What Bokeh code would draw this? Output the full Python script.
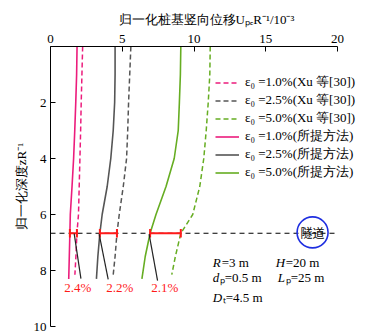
from bokeh.plotting import figure
from bokeh.models import Range1d, FixedTicker, Legend, LegendItem, ColumnDataSource
from bokeh.core.properties import value
from bokeh.embed import file_html
from bokeh.resources import INLINE

# ---- data ----
depth_solid = [0, 1, 2, 3, 4, 5, 6, 6.67, 7.5, 8.3]
depth_dash = [0, 1, 2, 3, 4, 5, 6, 6.67, 7.5, 8.15]

pink_solid = [1.85, 1.82, 1.76, 1.69, 1.61, 1.50, 1.38, 1.35, 1.31, 1.27]
pink_dash = [2.24, 2.19, 2.14, 2.10, 2.05, 2.00, 1.95, 1.84, 1.77, 1.70]
black_solid = [4.50, 4.50, 4.47, 4.37, 4.20, 3.95, 3.60, 3.44, 3.30, 3.20]
black_dash = [5.60, 5.52, 5.44, 5.38, 5.30, 5.07, 4.79, 4.63, 4.50, 4.37]
green_solid = [9.08, 9.05, 8.98, 8.90, 8.62, 8.05, 7.35, 6.94, 6.60, 6.37]
green_dash = [11.13, 11.10, 10.99, 10.85, 10.68, 10.40, 9.91, 9.08, 8.70, 8.45]

tunnel_depth = 6.67
bar_left = [1.35, 3.44, 6.94]
bar_right = [1.84, 4.63, 9.08]
diff_labels = ["2.4%", "2.2%", "2.1%"]
label_x = [1.90, 4.83, 7.96]
label_y = [8.6, 8.6, 8.6]
leader_x0 = [1.65, 3.39, 6.87]
leader_y0 = [6.68, 6.70, 6.70]
leader_x1 = [2.12, 4.02, 7.46]
leader_y1 = [8.29, 8.32, 8.36]

x_ticks = [0, 5, 10, 15, 20]
y_ticks = [2, 4, 6, 8, 10]

legend_labels = [
    "ε₀ =1.0%(Xu 等[30])",
    "ε₀ =2.5%(Xu 等[30])",
    "ε₀ =5.0%(Xu 等[30])",
    "ε₀ =1.0%(所提方法)",
    "ε₀ =2.5%(所提方法)",
    "ε₀ =5.0%(所提方法)",
]

PINK = "#ec1c7c"
GREY = "#555555"
GREEN = "#66ad22"
RED = "#ff1a1a"
SERIF = "Liberation Serif"

# frame extends past 20 so that the legend is not clipped; axis is bounded to 0..20
x_max_frame = 20 * (362 - 49.5) / (337 - 49.5)

p = figure(width=367, height=334, output_backend="svg", toolbar_location=None,
           x_range=Range1d(0, x_max_frame), y_range=Range1d(10, 0),
           x_axis_location="above",
           min_border_left=50, min_border_right=5, min_border_top=46, min_border_bottom=8)
p.outline_line_color = None
p.xgrid.visible = False
p.ygrid.visible = False
p.background_fill_color = "white"

for ax in (p.xaxis[0], p.yaxis[0]):
    ax.major_tick_in = 5
    ax.major_tick_out = 0
    ax.minor_tick_in = 0
    ax.minor_tick_out = 0
    ax.axis_line_color = "black"
    ax.major_tick_line_color = "black"
    ax.major_label_text_font = SERIF
    ax.major_label_text_font_size = "13px"
    ax.major_label_text_color = "black"
    ax.axis_label_text_font = SERIF
    ax.axis_label_text_font_size = "13px"
    ax.axis_label_text_font_style = "normal"
    ax.axis_label_text_color = "black"

p.xaxis[0].bounds = (0, 20)
p.xaxis[0].ticker = FixedTicker(ticks=x_ticks)
p.yaxis[0].ticker = FixedTicker(ticks=y_ticks)
p.xaxis[0].axis_label = "归一化桩基竖向位移UₚₑR⁻¹/10⁻³"
p.yaxis[0].axis_label = "归一化深度zR⁻¹"
p.xaxis[0].major_label_standoff = 4
p.xaxis[0].axis_label_standoff = 5
p.yaxis[0].major_label_standoff = 4
p.yaxis[0].axis_label_standoff = 2

# tunnel line
p.line([0, 20], [tunnel_depth, tunnel_depth], line_color="black", line_width=1.2, line_dash="5 4")

r_pd = p.line(pink_dash, depth_dash, line_color=PINK, line_width=1.5, line_dash="5 3")
r_bd = p.line(black_dash, depth_dash, line_color=GREY, line_width=1.5, line_dash="5 3")
r_gd = p.line(green_dash, depth_dash, line_color=GREEN, line_width=1.5, line_dash="5 3")
r_ps = p.line(pink_solid, depth_solid, line_color=PINK, line_width=1.6)
r_bs = p.line(black_solid, depth_solid, line_color=GREY, line_width=1.6)
r_gs = p.line(green_solid, depth_solid, line_color=GREEN, line_width=1.6)

# difference bars
td = [tunnel_depth] * 3
p.segment(x0=bar_left, y0=td, x1=bar_right, y1=td, line_color=RED, line_width=2)
cap_x = bar_left + bar_right
p.segment(x0=cap_x, y0=[tunnel_depth - 0.15] * 6, x1=cap_x, y1=[tunnel_depth + 0.15] * 6,
          line_color=RED, line_width=2)
p.segment(x0=leader_x0, y0=leader_y0, x1=leader_x1, y1=leader_y1, line_color="#222222", line_width=1.2)
p.text(x=label_x, y=label_y, text=diff_labels, text_color=RED, text_font=value(SERIF),
       text_font_size="13px", text_align="center", text_baseline="middle")

# tunnel symbol
p.scatter(x=[18.26], y=[6.64], size=31, marker="circle", fill_color=None,
          line_color="#1f2fe0", line_width=1.6)
p.text(x=[18.26], y=[6.64], text=["隧道"], text_color="black", text_font=value("Noto Sans CJK SC"),
       text_font_size="12px", text_align="center", text_baseline="middle")

# parameter annotations
var_x = [11.3, 15.69, 11.3, 15.83, 11.3]
var_y = [7.71, 7.71, 8.25, 8.25, 8.96]
var_txt = ["R", "H", "d", "L", "D"]
rest_txt = ["=3 m", "=20 m", "ₚ=0.5 m", "ₚ=25 m", "ₜ=4.5 m"]
rest_off = [9, 10, 7, 8, 10]
p.text(x=var_x, y=var_y, text=var_txt, text_font=value(SERIF), text_font_style="italic",
       text_font_size="13px", text_baseline="middle", text_color="black")
src = ColumnDataSource(dict(x=var_x, y=var_y, t=rest_txt, o=rest_off))
p.text(x="x", y="y", text="t", x_offset="o", source=src, text_font=value(SERIF),
       text_font_size="13px", text_baseline="middle", text_color="black")

legend = Legend(items=[
    LegendItem(label=legend_labels[0], renderers=[r_pd]),
    LegendItem(label=legend_labels[1], renderers=[r_bd]),
    LegendItem(label=legend_labels[2], renderers=[r_gd]),
    LegendItem(label=legend_labels[3], renderers=[r_ps]),
    LegendItem(label=legend_labels[4], renderers=[r_bs]),
    LegendItem(label=legend_labels[5], renderers=[r_gs]),
], location=(165, 145))
legend.background_fill_alpha = 0
legend.border_line_color = None
legend.glyph_width = 24
legend.glyph_height = 17
legend.label_height = 17
legend.label_standoff = 6
legend.spacing = 0
legend.padding = 0
legend.margin = 0
legend.label_text_font = SERIF
legend.label_text_font_size = "13px"
legend.label_text_color = "black"
p.add_layout(legend)

open("out.html", "w").write(file_html(p, INLINE))
